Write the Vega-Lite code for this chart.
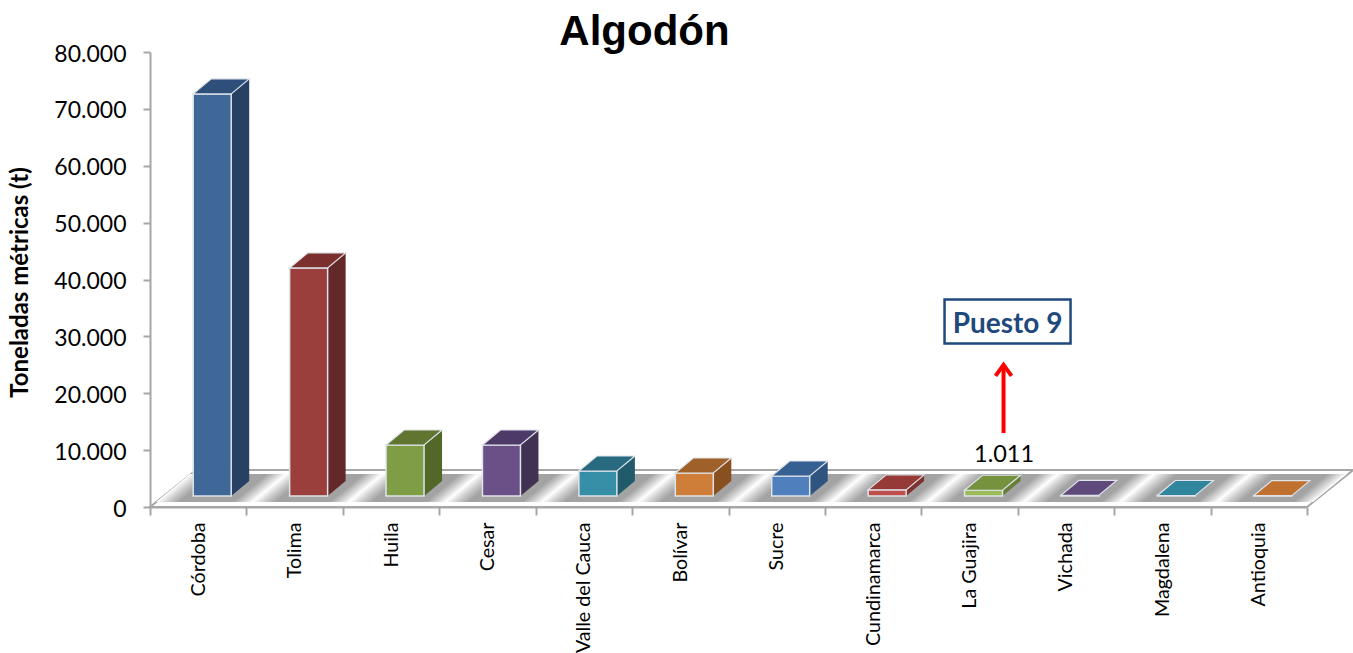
{
"$schema":"https://vega.github.io/schema/vega-lite/v6.json",
"autosize":"none",
"width":1157,"height":455,
"padding":{"left":150,"top":52,"right":46,"bottom":146},
"background":"white",
"title":{"text":"Algodón","font":"Liberation Sans","fontSize":42,"fontWeight":"bold","color":"#000000","anchor":"middle","dx":-84,"offset":-11},
"config":{"view":{"stroke":null}},
"data":{"values":[
{"dept":"Córdoba","value":70700},
{"dept":"Tolima","value":40100},
{"dept":"Huila","value":8970},
{"dept":"Cesar","value":8970},
{"dept":"Valle del Cauca","value":4400},
{"dept":"Bolívar","value":4040},
{"dept":"Sucre","value":3520},
{"dept":"Cundinamarca","value":1080},
{"dept":"La Guajira","value":1011},
{"dept":"Vichada","value":120},
{"dept":"Magdalena","value":90},
{"dept":"Antioquia","value":60}
]},
"encoding":{
"x":{"field":"dept","type":"nominal","sort":null,"title":null,
"scale":{"domain":["Córdoba","Tolima","Huila","Cesar","Valle del Cauca","Bolívar","Sucre","Cundinamarca","La Guajira","Vichada","Magdalena","Antioquia"],"paddingInner":0,"paddingOuter":0},
"axis":{"labelAngle":-90,"labelAlign":"right","labelBaseline":"middle","labelFont":"Lato","labelFontSize":19.7,"labelColor":"#000000","labelPadding":7,"tickBand":"extent","tickColor":"#a6a6a6","tickWidth":2,"tickSize":8,"domainColor":"#a6a6a6","domainWidth":2,"grid":false,"labelOverlap":false,"labelLimit":200}}
},
"layer":[
{"data":{"values":[{"dept":"Córdoba"}]},
"mark":{"type":"point","shape":"M-48.2,0 L1108.8,0 L1155,-37 L-2,-37 Z","size":4,"filled":true,"fill":"#ffffff","stroke":"#a6a6a6","strokeWidth":2,"opacity":1},
"encoding":{"y":{"datum":0,"type":"quantitative","title":"Toneladas métricas (t)","scale":{"domain":[0,80000]},
"axis":{"values":[0,10000,20000,30000,40000,50000,60000,70000,80000],"labelExpr":"replace(format(datum.value,','),',','.')","labelFont":"Lato","labelFontSize":23,"labelColor":"#000000","labelPadding":17,"labelOffset":2,"tickColor":"#a6a6a6","tickWidth":2,"tickSize":7,"domainColor":"#a6a6a6","domainWidth":2,"grid":false,"titleFont":"Lato","titleFontSize":24,"titleFontWeight":"bold","titleColor":"#000000","titleX":-118,"titleY":230}}}},
{"mark":{"type":"point","shape":"M-42.2,-5 L54.2,-5 L88.2,-33 L-8.2,-33 Z","size":4,"filled":true,"opacity":1,"strokeWidth":0,
"fill":{"gradient":"linear","x1":0,"y1":1,"x2":0.694,"y2":1.18,"stops":[{"offset":0,"color":"#ffffff"},{"offset":0.12,"color":"#cccccc"},{"offset":0.24,"color":"#a3a3a3"},{"offset":0.8,"color":"#a3a3a3"},{"offset":0.92,"color":"#d8d8d8"},{"offset":1,"color":"#ffffff"}]}},
"encoding":{"y":{"datum":0,"type":"quantitative","title":"Toneladas métricas (t)"}}},
{"mark":{"type":"bar","width":18,"xOffset":42,"yOffset":-26},
"encoding":{"y":{"field":"value","type":"quantitative","title":"Toneladas métricas (t)"},
"color":{"field":"dept","type":"nominal","legend":null,"scale":{"domain":["Córdoba","Tolima","Huila","Cesar","Valle del Cauca","Bolívar","Sucre","Cundinamarca","La Guajira","Vichada","Magdalena","Antioquia"],"range":["#274164","#632928","#516829","#413253","#205B6C","#88501F","#2F5480","#7F3230","#677E3A","#40315A","#215868","#85491E"]}}}},
{"mark":{"type":"point","shape":"M19,0 L37,-15 L19,-15 Z","size":4,"filled":true,"opacity":1,"xOffset":14,"yOffset":-11,"strokeWidth":0},
"encoding":{"y":{"datum":0,"type":"quantitative","title":"Toneladas métricas (t)"},
"color":{"field":"dept","type":"nominal","legend":null,"scale":{"domain":["Córdoba","Tolima","Huila","Cesar","Valle del Cauca","Bolívar","Sucre","Cundinamarca","La Guajira","Vichada","Magdalena","Antioquia"],"range":["#274164","#632928","#516829","#413253","#205B6C","#88501F","#2F5480","#7F3230","#677E3A","#40315A","#215868","#85491E"]}}}},
{"mark":{"type":"bar","width":38,"xOffset":14,"yOffset":-11,"stroke":"#dfe3ea","strokeWidth":1.5},
"encoding":{"y":{"field":"value","type":"quantitative","title":"Toneladas métricas (t)"},
"color":{"field":"dept","type":"nominal","legend":null,"scale":{"domain":["Córdoba","Tolima","Huila","Cesar","Valle del Cauca","Bolívar","Sucre","Cundinamarca","La Guajira","Vichada","Magdalena","Antioquia"],"range":["#3F6797","#9B3F3D","#7F9D45","#6A5087","#368EA7","#CE7E39","#4F80BD","#BE4F4C","#9BBB59","#604A7B","#31859C","#C0702F"]}}}},
{"mark":{"type":"point","shape":"M-19,0 L19,0 L37,-15 L-1,-15 Z","size":4,"filled":true,"opacity":1,"xOffset":14,"yOffset":-11,"stroke":"#dfe3ea","strokeWidth":1.2},
"encoding":{"y":{"field":"value","type":"quantitative","title":"Toneladas métricas (t)"},
"color":{"field":"dept","type":"nominal","legend":null,"scale":{"domain":["Córdoba","Tolima","Huila","Cesar","Valle del Cauca","Bolívar","Sucre","Cundinamarca","La Guajira","Vichada","Magdalena","Antioquia"],"range":["#2F4F7B","#7B302E","#5F7530","#4E3A68","#286A80","#A0602A","#376092","#963A38","#76923C","#604A7B","#31859C","#C0702F"]}}}},
{"transform":[{"filter":"datum.dept==='La Guajira'"}],
"mark":{"type":"text","font":"Lato","fontSize":23.5,"color":"#000000","xOffset":34.5,"yOffset":-46,"align":"center","baseline":"middle","text":"1.011"},
"encoding":{"y":{"field":"value","type":"quantitative","title":"Toneladas métricas (t)"}}},
{"data":{"values":[{"dept":"La Guajira","from":13000,"to":24500}]},
"mark":{"type":"rule","color":"#ff0000","strokeWidth":4,"xOffset":34},
"encoding":{"y":{"field":"from","type":"quantitative","title":"Toneladas métricas (t)"},"y2":{"field":"to","title":"Toneladas métricas (t)"}}},
{"data":{"values":[{"dept":"La Guajira","to":25000}]},
"mark":{"type":"point","shape":"M-8,11 L0,0 L8,11","size":4,"filled":false,"opacity":1,"stroke":"#ff0000","strokeWidth":4,"xOffset":34},
"encoding":{"y":{"field":"to","type":"quantitative","title":"Toneladas métricas (t)"}}},
{"data":{"values":[{"dept":"La Guajira","pos":32600,"label":"Puesto 9"}]},
"mark":{"type":"point","shape":"M-63,-22 L63,-22 L63,22 L-63,22 Z","size":4,"filled":false,"opacity":1,"stroke":"#1F497D","strokeWidth":2.5,"xOffset":38},
"encoding":{"y":{"field":"pos","type":"quantitative","title":"Toneladas métricas (t)"}}},
{"data":{"values":[{"dept":"La Guajira","pos":32600,"label":"Puesto 9"}]},
"mark":{"type":"text","font":"Lato","fontSize":28,"fontWeight":"bold","color":"#1F497D","xOffset":38,"yOffset":3,"align":"center","baseline":"middle"},
"encoding":{"y":{"field":"pos","type":"quantitative","title":"Toneladas métricas (t)"},"text":{"field":"label"}}}
],
"resolve":{"scale":{"color":"independent"}}
}
